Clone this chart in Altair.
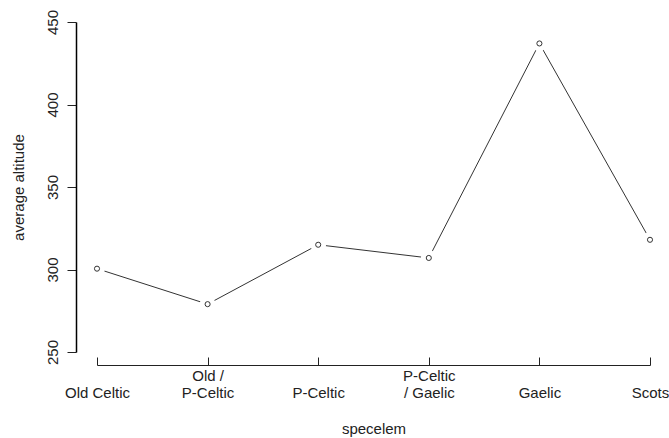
import altair as alt
import pandas as pd

# Place-name element groups and the mean altitude of each
categories = ["Old Celtic", "Old /\nP-Celtic", "P-Celtic", "P-Celtic\n/ Gaelic", "Gaelic", "Scots"]
avg_altitude = [300.5, 279.0, 315.0, 307.0, 437.0, 318.0]
y_ticks = [250, 300, 350, 400, 450]

df = pd.DataFrame({"specelem": categories, "altitude": avg_altitude})

FONT = "Liberation Sans"
INK = "#222222"
W, H = 553, 330

y_scale = alt.Scale(domain=[250, 450], nice=False, zero=False)
y_axis = alt.Axis(
    values=y_ticks, offset=21, domain=True, domainColor="#000000", domainWidth=1.5,
    ticks=True, tickSize=9, tickWidth=1, tickColor=INK,
    labelAngle=270, labelAlign="center", labelBaseline="bottom", labelPadding=7,
    labelFont=FONT, labelFontSize=15, labelFontWeight="normal", labelColor=INK, grid=False,
    title="average altitude", titleFont=FONT, titleFontSize=15,
    titleFontWeight="normal", titleColor=INK, titlePadding=19,
)
y_enc = alt.Y("altitude:Q", scale=y_scale, axis=y_axis)

x_scale = alt.Scale(type="point", padding=0, domain=categories)

# Tick axis: ticks rise from the baseline drawn under the plot
tick_axis = alt.Axis(
    orient="top", offset=-(H + 13), labels=False, title=None,
    tickSize=8, tickWidth=1, tickColor=INK, domainColor=INK, domainWidth=1, grid=False,
)
# Label axis: one-line names sit on the lower line of the two-line names
label_axis = alt.Axis(
    orient="bottom", offset=13, ticks=False, tickSize=0, domain=False,
    labelExpr="indexof(datum.label, '\\n') < 0 ? ['', datum.label] : split(datum.label, '\\n')",
    labelAngle=0, labelAlign="center",
    labelBaseline="top", labelPadding=3, labelLineHeight=17,
    labelFont=FONT, labelFontSize=15, labelFontWeight="normal", labelColor=INK, labelOverlap=False,
    title="specelem", titleFont=FONT, titleFontSize=15, titleFontWeight="normal",
    titleColor=INK, titlePadding=21,
)

base = alt.Chart(df)

line = base.mark_line(color="#333333", strokeWidth=1).encode(
    x=alt.X("specelem:N", scale=x_scale, sort=categories, axis=tick_axis),
    y=y_enc,
)

# White disks leave the gap around each point, as in a "both" plot
gaps = base.mark_point(shape="circle", filled=True, color="white", size=250, opacity=1).encode(
    x=alt.X("specelem:N", scale=x_scale, sort=categories, axis=None),
    y=y_enc,
)

points = base.mark_point(shape="circle", filled=False, color="#333333", size=26, strokeWidth=1, opacity=1).encode(
    x=alt.X("specelem:N", scale=x_scale, sort=categories, axis=label_axis),
    y=y_enc,
)

chart = (
    alt.layer(line, gaps, points)
    .resolve_axis(x="independent")
    .properties(
        width=W, height=H,
        autosize=alt.AutoSizeParams(type="none"),
        padding={"left": 97, "top": 22, "right": 19, "bottom": 86},
        background="white",
    )
    .configure_view(stroke=None)
)

chart.save("out.html", embed_options={"renderer": "svg", "actions": False})
